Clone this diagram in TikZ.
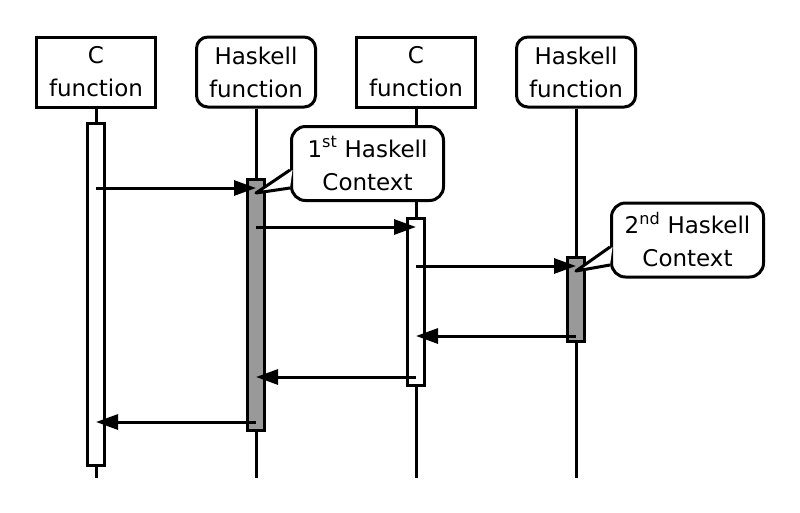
\documentclass[tikz,border=0pt]{standalone}
\usepackage{fontspec}
\setmainfont{DejaVu Sans}
\usepackage{tikz}
\usetikzlibrary{positioning,arrows.meta}
\definecolor{barGray}{RGB}{153,153,153}
\tikzstyle{diagram} = [x = 1pt, y = -1pt, line width = 3pt]
\tikzstyle{headStyle} = [draw, fill=white, line width=3pt, minimum width=119pt, minimum height=70pt, inner sep=0pt, align=center, font=\fontsize{23}{33}\selectfont]
\tikzstyle{cHead} = [headStyle]
\tikzstyle{haskellHead} = [headStyle, rounded corners=.4cm]
\tikzstyle{lifeLineStyle} = [line width=3pt]
\tikzstyle{barStyle} = [draw, line width=3pt]
\tikzstyle{callStyle} = [-{Triangle[length=22pt, width=15pt]}, line width=3pt]
\tikzstyle{noteText} = [draw, fill=white, line width=3pt, rounded corners=14pt, minimum width=152pt, minimum height=74pt, inner sep=0pt, align=center, font=\fontsize{23}{33}\selectfont]
\tikzstyle{tailLine} = [line width=3pt, line join=round]
\newcommand{\lifeLine}[2]{\draw [lifeLineStyle] (#1.south) -- (#1.south |- 0,#2);}
\newcommand{\activationBar}[4]{\filldraw [barStyle, fill=#4] (#1.south |- 0,#2) ++(-8.5,0) rectangle ++(17,#3-#2);}
\newcommand{\callArrow}[3]{\draw [callStyle] (#1.south |- 0,#3) -- (#2.south |- 0,#3);}
\newcommand{\noteTail}[4]{
  \fill [white] (#1.west |- 0,#2) ++(2.5,0) -- (#4) -- (#1.west |- 0,#3) ++(2.5,0) -- cycle;
  \draw [tailLine] (#1.west |- 0,#2) -- (#4) -- (#1.west |- 0,#3);
}

\begin{document}
\begin{tikzpicture}[diagram]
        \useasboundingbox (0,0) rectangle (800,512);
        \node [cHead] (cOne) at (96,72) {C\\function};
        \node [haskellHead] (haskellOne) at (256,72) {Haskell\\function};
        \node [cHead] (cTwo) at (416,72) {C\\function};
        \node [haskellHead] (haskellTwo) at (576,72) {Haskell\\function};

        \lifeLine{cOne}{478}
        \lifeLine{haskellOne}{478}
        \lifeLine{cTwo}{478}
        \lifeLine{haskellTwo}{478}

        \activationBar{cOne}{123.5}{465.5}{white}
        \activationBar{haskellOne}{179.5}{430.5}{barGray}
        \activationBar{cTwo}{218.5}{385.5}{white}
        \activationBar{haskellTwo}{257.5}{341.5}{barGray}

        \callArrow{cOne}{haskellOne}{188}
        \callArrow{haskellOne}{cTwo}{227}
        \callArrow{cTwo}{haskellTwo}{266}
        \callArrow{haskellTwo}{cTwo}{336}
        \callArrow{cTwo}{haskellOne}{377}
        \callArrow{haskellOne}{cOne}{422}

        \coordinate (tipOne) at (haskellOne.south |- 0,193);
        \coordinate (tipTwo) at (haskellTwo.south |- 0,271);
        \node [noteText] (noteOne) at (367.5,163.5) {1\textsuperscript{st} Haskell\\Context};
        \noteTail{noteOne}{170}{188}{tipOne}
        \node [noteText] (noteTwo) at (687.5,240) {2\textsuperscript{nd} Haskell\\Context};
        \noteTail{noteTwo}{247}{265}{tipTwo}
      \end{tikzpicture}
\end{document}
